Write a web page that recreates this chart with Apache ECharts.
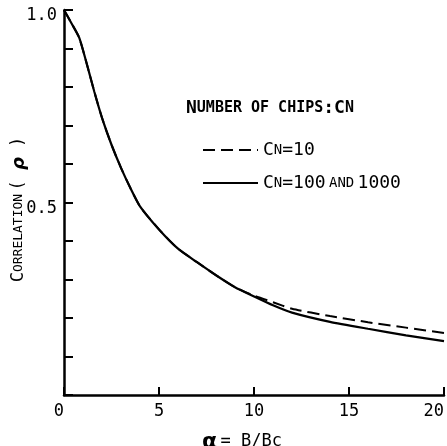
<!DOCTYPE html>
<html>
<head>
<meta charset="utf-8">
<script src="https://cdn.jsdelivr.net/npm/echarts@6/dist/echarts.min.js"></script>
<style>
  html, body { margin: 0; padding: 0; background: #fff; }
  #chart { width: 447px; height: 446px; }
</style>
</head>
<body>
<div id="chart"></div>
<script>
// alpha = B/Bc
const alphaValues = [0, 0.4, 0.8, 1.2, 1.6, 2, 2.5, 3, 3.5, 4, 5, 6, 7, 8, 9, 10, 11, 12, 14, 16, 18, 20]
// CN=10 (dashed)
const rhoCn10 = [1.0, 0.965, 0.928, 0.86, 0.787, 0.72, 0.65, 0.59, 0.537, 0.49, 0.43, 0.38, 0.345, 0.311, 0.28, 0.258, 0.241, 0.224, 0.205, 0.189, 0.175, 0.161]
// CN=100 and 1000 (solid)
const rhoCn100 = [1.0, 0.965, 0.928, 0.86, 0.787, 0.72, 0.65, 0.59, 0.537, 0.49, 0.43, 0.38, 0.345, 0.311, 0.28, 0.256, 0.233, 0.214, 0.19, 0.172, 0.155, 0.14]
const xLabels = ['0', '5', '10', '15', '20']
const yLabels = ['0.5', '1.0']

const font = 'DejaVu Sans Mono'
const big = { fontFamily: font, fontSize: 17, color: '#000' }
const small = { fontFamily: font, fontSize: 13, color: '#000' }

const chart = echarts.init(document.getElementById('chart'))

const toPairs = (ys) => alphaValues.map((x, i) => [x, ys[i]])

const legendText = {
  'CN=10': '{b|C}{s|N}{b|=10}',
  'CN=100 and 1000': '{b|C}{s|N}{b|=100} {s|AND} {b|1000}'
}

const option = {
  animation: false,
  color: ['#000', '#000'],
  title: {
    text: '{b|N}{s|UMBER OF CHIPS}{b|:C}{s|N}',
    left: 181,
    top: 94,
    textStyle: { rich: { b: { ...big, fontSize: 18 }, s: { ...small, fontSize: 15 } } }
  },
  legend: {
    orient: 'vertical',
    left: 197,
    top: 136,
    itemWidth: 55,
    itemHeight: 14,
    itemGap: 15,
    selectedMode: false,
    itemStyle: { opacity: 0 },
    formatter: (name) => legendText[name],
    textStyle: { rich: { b: { ...big, fontSize: 18 }, s: { ...small, fontSize: 14 } } },
    data: ['CN=10', 'CN=100 and 1000']
  },
  grid: { left: 64, right: 3, top: 10, bottom: 51, containLabel: false, outerBoundsMode: 'none' },
  xAxis: {
    type: 'value',
    min: 0,
    max: 20,
    interval: 5,
    name: '{a|α} {b|= B/Bc}',
    nameLocation: 'middle',
    nameGap: 36,
    nameMoveOverlap: false,
    nameTextStyle: {
      padding: [0, 24, 0, 0],
      rich: {
        a: { fontFamily: 'DejaVu Sans', fontSize: 22, fontWeight: 'bold', color: '#000' },
        b: big
      }
    },
    axisLine: { lineStyle: { color: '#000', width: 2.5 } },
    axisTick: { inside: true, length: 8, lineStyle: { color: '#000', width: 2 } },
    axisLabel: {
      color: '#000', fontFamily: font, fontSize: 17, margin: 8,
      alignMinLabel: 'right', alignMaxLabel: 'right',
      formatter: (v) => xLabels.includes(String(v)) ? String(v) : ''
    },
    splitLine: { show: false }
  },
  yAxis: {
    type: 'value',
    min: 0,
    max: 1,
    interval: 0.1,
    name: '{b|C}{s|ORRELATION} {b|( }{r|ρ}{b| )}',
    nameLocation: 'middle',
    nameGap: 36,
    nameMoveOverlap: false,
    nameTextStyle: {
      padding: [0, 14, 0, 0],
      rich: {
        b: big,
        s: small,
        r: { fontFamily: 'DejaVu Sans', fontSize: 18, fontStyle: 'italic', fontWeight: 'bold', color: '#000' }
      }
    },
    axisLine: { lineStyle: { color: '#000', width: 2.5 } },
    axisTick: { inside: true, length: 9, lineStyle: { color: '#000', width: 2 } },
    axisLabel: {
      color: '#000', fontFamily: font, fontSize: 17, margin: 7,
      verticalAlign: 'top',
      lineHeight: 12,
      formatter: (v) => {
        const s = v.toFixed(1)
        return yLabels.includes(s) ? s : ''
      }
    },
    splitLine: { show: false }
  },
  series: [
    {
      name: 'CN=10',
      type: 'line',
      smooth: 0.2,
      symbol: 'none',
      lineStyle: { color: '#000', width: 2, type: [12, 6] },
      data: toPairs(rhoCn10)
    },
    {
      name: 'CN=100 and 1000',
      type: 'line',
      smooth: 0.2,
      symbol: 'none',
      lineStyle: { color: '#000', width: 2.2, type: 'solid' },
      data: toPairs(rhoCn100)
    }
  ]
}

chart.setOption(option)
</script>
</body>
</html>
